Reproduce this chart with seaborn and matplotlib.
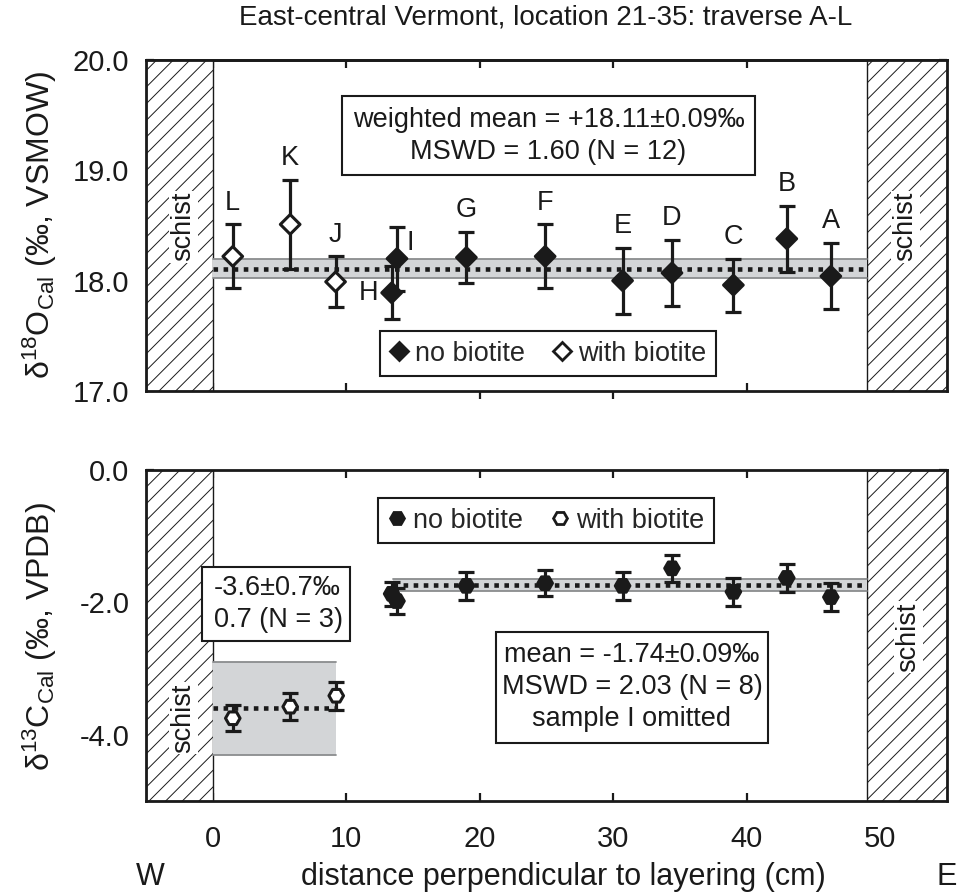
import numpy as np
import pandas as pd
import matplotlib
matplotlib.use("Agg")
import matplotlib.pyplot as plt
import seaborn as sns
from matplotlib.patches import Rectangle
from matplotlib.lines import Line2D
from matplotlib.ticker import FixedLocator

# ---------------- data ----------------
samples = ['L', 'K', 'J', 'I', 'H', 'G', 'F', 'E', 'D', 'C', 'B', 'A']
x_top = [1.5, 5.8, 9.2, 13.8, 13.4, 19.0, 24.9, 30.7, 34.4, 39.0, 43.0, 46.3]
d18O = [18.22, 18.51, 17.99, 18.20, 17.89, 18.21, 18.22, 18.00, 18.07, 17.96, 18.38, 18.04]
d18O_err = [0.29, 0.40, 0.23, 0.29, 0.24, 0.23, 0.29, 0.30, 0.30, 0.24, 0.30, 0.30]
biotite_top = ['with', 'with', 'with', 'no', 'no', 'no', 'no', 'no', 'no', 'no', 'no', 'no']

x_bot = [1.5, 5.8, 9.25, 13.8, 13.4, 19.0, 24.9, 30.7, 34.4, 39.0, 43.0, 46.3]
d13C = [-3.75, -3.575, -3.41, -1.98, -1.87, -1.75, -1.71, -1.75, -1.485, -1.84, -1.63, -1.92]
d13C_err = [0.20, 0.20, 0.21, 0.20, 0.18, 0.21, 0.20, 0.21, 0.20, 0.21, 0.21, 0.21]
biotite_bot = biotite_top

mean_O, mean_O_err = 18.11, 0.09
mean_C, mean_C_err = -1.74, 0.09
mean_Cb, mean_Cb_err = -3.6, 0.7
schist_W = (-5, 0)
schist_E = (49, 55)

title = "East-central Vermont, location 21-35: traverse A-L"
xlabel = "distance perpendicular to layering (cm)"
ylabel_top = "δ$^{18}$O$_{\\mathrm{Cal}}$ (‰, VSMOW)"
ylabel_bot = "δ$^{13}$C$_{\\mathrm{Cal}}$ (‰, VPDB)"
box_top = "weighted mean = +18.11±0.09‰\nMSWD = 1.60 (N = 12)"
box_bot = "mean = -1.74±0.09‰\nMSWD = 2.03 (N = 8)\nsample I omitted"
box_left = "-3.6±0.7‰\n0.7 (N = 3)"
xticks = [0, 10, 20, 30, 40, 50]
yticks_top = [17.0, 17.5, 18.0, 18.5, 19.0, 19.5, 20.0]
yticklabels_top = ['17.0', '', '18.0', '', '19.0', '', '20.0']
yticks_bot = [-5, -4, -3, -2, -1, 0]
yticklabels_bot = ['', '-4.0', '', '-2.0', '', '0.0']

df_top = pd.DataFrame({'sample': samples, 'x': x_top, 'y': d18O, 'err': d18O_err, 'biotite': biotite_top})
df_bot = pd.DataFrame({'sample': samples, 'x': x_bot, 'y': d13C, 'err': d13C_err, 'biotite': biotite_bot})

# ---------------- style ----------------
sns.set_theme(style="ticks")
FONT = ['Liberation Sans', 'DejaVu Sans']
plt.rcParams['font.family'] = FONT
plt.rcParams['mathtext.fontset'] = 'custom'
plt.rcParams['mathtext.rm'] = 'Liberation Sans'
plt.rcParams['mathtext.it'] = 'Liberation Sans:italic'
plt.rcParams['mathtext.bf'] = 'Liberation Sans:bold'
plt.rcParams['hatch.linewidth'] = 0.7
plt.rcParams['axes.linewidth'] = 2.0
FS = 19.5      # in-axes text
TFS = 21       # tick labels
LFS = 22       # axis labels
DARK = '#1a1a1a'
BAND = '#d3d5d7'
BANDEDGE = '#8a8c8e'

fig = plt.figure(figsize=(9.61, 8.94), dpi=100)
ax1 = fig.add_axes([146/961, 1-391/894, 801/961, 331/894])
ax2 = fig.add_axes([146/961, 1-801/894, 801/961, 331/894])

palette = {'no': DARK, 'with': 'white'}


def schist(ax, ylo, yhi):
    for (a, b) in (schist_W, schist_E):
        ax.add_patch(Rectangle((a, ylo), b - a, yhi - ylo, facecolor='white',
                               edgecolor=DARK, hatch='//', lw=1.0, zorder=1))


def band(ax, x0, x1, m, e, fc=BAND, ec=BANDEDGE, ylo=None, yhi=None):
    lo = m - e if ylo is None else ylo
    hi = m + e if yhi is None else yhi
    ax.add_patch(Rectangle((x0, lo), x1 - x0, hi - lo, facecolor=fc, edgecolor='none', zorder=2))
    ax.plot([x0, x1], [lo, lo], color=ec, lw=1.3, zorder=2.1)
    ax.plot([x0, x1], [hi, hi], color=ec, lw=1.3, zorder=2.1)
    ax.plot([x0, x1], [m, m], color=DARK, lw=3.3, linestyle=(0, (1, 1.2)),
            dash_capstyle='butt', zorder=2.5)


def style_axes(ax, ylim, yticks, yticklabels, xlabels=False):
    ax.set_xlim(-5, 55)
    ax.set_ylim(*ylim)
    ax.set_xticks(xticks)
    ax.set_yticks(yticks)
    ax.set_yticklabels(yticklabels)
    for s in ax.spines.values():
        s.set_color(DARK)
        s.set_linewidth(2.0)
        s.set_zorder(10)
    ax.tick_params(axis='both', which='both', direction='in', length=5.5, width=1.6,
                   color=DARK, top=True, right=True, labelsize=TFS, labelcolor=DARK)
    ax.tick_params(axis='y', pad=12)
    ax.tick_params(axis='x', pad=17, labelbottom=xlabels)
    ax.set_xlabel('')
    ax.set_ylabel('')
    ax.grid(False)


# ---------------- top panel ----------------
schist(ax1, 17, 20)
band(ax1, 0, schist_E[0], mean_O, mean_O_err)
ax1.errorbar(df_top['x'], df_top['y'], yerr=df_top['err'], fmt='none', ecolor=DARK,
             elinewidth=2.3, capsize=6, capthick=2.3, zorder=3)
sns.scatterplot(data=df_top, x='x', y='y', hue='biotite', palette=palette, marker='D',
                s=100, edgecolor=DARK, linewidth=2.2, legend=False, ax=ax1, zorder=4)
for s, x, y, e in zip(samples, x_top, d18O, d18O_err):
    if s == 'I':
        ax1.text(x + 0.7, y + 0.14, s, fontsize=FS, color=DARK, ha='left', va='center')
    elif s == 'H':
        ax1.text(x - 1.0, y, s, fontsize=FS, color=DARK, ha='right', va='center')
    else:
        ax1.text(x, y + e + 0.08, s, fontsize=FS, color=DARK, ha='center', va='bottom')

ax1.add_patch(Rectangle((9.7, 18.96), 30.9, 0.71, facecolor='white', edgecolor=DARK, lw=1.5, zorder=5))
ax1.text(25.15, 19.315, box_top, fontsize=FS, color=DARK, ha='center', va='center',
         linespacing=1.3, zorder=6)
for xc in (-2.2, 51.9):
    ax1.text(xc, 18.49, 'schist', rotation=90, fontsize=FS, color=DARK, ha='center', va='center',
             zorder=6, bbox=dict(boxstyle='square,pad=0.05', fc='white', ec='none'))

h_no = Line2D([], [], marker='D', color='none', markerfacecolor=DARK, markeredgecolor=DARK,
              markersize=9, markeredgewidth=2)
h_with = Line2D([], [], marker='D', color='none', markerfacecolor='white', markeredgecolor=DARK,
                markersize=9, markeredgewidth=2)
leg1 = ax1.legend([h_no, h_with], ['no biotite', 'with biotite'], ncol=2, loc='center',
                  bbox_to_anchor=(0.5017, 0.113), fontsize=FS, frameon=True, fancybox=False,
                  edgecolor=DARK, framealpha=1, handlelength=0.7, handletextpad=0.25,
                  columnspacing=1.0, borderpad=0.35, borderaxespad=0)
leg1.get_frame().set_linewidth(1.5)
leg1.set_zorder(7)
style_axes(ax1, (17, 20), yticks_top, yticklabels_top)
ax1.xaxis.set_major_locator(FixedLocator([0, 10, 40, 50]))
ax1.xaxis.set_minor_locator(FixedLocator([20, 30]))
ax1.tick_params(axis='x', which='minor', bottom=True, top=False, direction='out', length=5.5,
                width=1.6, color=DARK)
ax1.tick_params(axis='y', which='minor', left=False, right=False)
sec = ax1.secondary_xaxis('top')
sec.set_xticks(xticks)
sec.tick_params(direction='in', length=5.5, width=1.6, color=DARK, labeltop=False)
sec.spines['top'].set_linewidth(2.0)
ax1.tick_params(axis='x', which='major', top=False)

# ---------------- bottom panel ----------------
schist(ax2, -5, 0)
band(ax2, 0, 9.25, mean_Cb, 0.0, fc=BAND, ec=BANDEDGE,
     ylo=mean_Cb - mean_Cb_err, yhi=mean_Cb + mean_Cb_err)
band(ax2, 13.5, schist_E[0], mean_C, mean_C_err)
ax2.errorbar(df_bot['x'], df_bot['y'], yerr=df_bot['err'], fmt='none', ecolor=DARK,
             elinewidth=2.3, capsize=5.5, capthick=2.3, zorder=3)
sns.scatterplot(data=df_bot, x='x', y='y', hue='biotite', palette=palette, marker='H',
                s=110, edgecolor=DARK, linewidth=2.2, legend=False, ax=ax2, zorder=4)

ax2.add_patch(Rectangle((-0.84, -2.59), 11.14, 1.12, facecolor='white', edgecolor=DARK, lw=1.5, zorder=5))
ax2.text(0.1, -2.03, box_left, fontsize=FS, color=DARK, ha='left', va='center',
         linespacing=1.3, zorder=6)
ax2.add_patch(Rectangle((21.2, -4.12), 20.4, 1.67, facecolor='white', edgecolor=DARK, lw=1.5, zorder=5))
ax2.text(31.4, -3.285, box_bot, fontsize=FS, color=DARK, ha='center', va='center',
         linespacing=1.3, zorder=6)
ax2.text(-2.2, -3.75, 'schist', rotation=90, fontsize=FS, color=DARK, ha='center', va='center',
         zorder=6, bbox=dict(boxstyle='square,pad=0.05', fc='white', ec='none'))
ax2.text(52.1, -2.52, 'schist', rotation=90, fontsize=FS, color=DARK, ha='center', va='center',
         zorder=6, bbox=dict(boxstyle='square,pad=0.05', fc='white', ec='none'))

g_no = Line2D([], [], marker='H', color='none', markerfacecolor=DARK, markeredgecolor=DARK,
              markersize=10, markeredgewidth=2)
g_with = Line2D([], [], marker='H', color='none', markerfacecolor='white', markeredgecolor=DARK,
                markersize=10, markeredgewidth=2)
leg2 = ax2.legend([g_no, g_with], ['no biotite', 'with biotite'], ncol=2, loc='center',
                  bbox_to_anchor=(0.4992, 0.847), fontsize=FS, frameon=True, fancybox=False,
                  edgecolor=DARK, framealpha=1, handlelength=0.7, handletextpad=0.25,
                  columnspacing=1.0, borderpad=0.35, borderaxespad=0)
leg2.get_frame().set_linewidth(1.5)
leg2.set_zorder(7)
style_axes(ax2, (-5, 0), yticks_bot, yticklabels_bot, xlabels=True)

# ---------------- figure texts ----------------
fig.text(546/961, 1-18/894, title, fontsize=20, color=DARK, ha='center', va='center')
fig.text(563/961, 1-877/894, xlabel, fontsize=LFS, color=DARK, ha='center', va='center')
fig.text(150/961, 1-877/894, 'W', fontsize=LFS, color=DARK, ha='center', va='center')
fig.text(957/961, 1-877/894, 'E', fontsize=LFS, color=DARK, ha='right', va='center')
fig.text(40/961, 1-225/894, ylabel_top, fontsize=LFS + 1, color=DARK, rotation=90,
         ha='center', va='center')
fig.text(40/961, 1-637/894, ylabel_bot, fontsize=LFS + 1, color=DARK, rotation=90,
         ha='center', va='center')

fig.savefig('out.png', dpi=100, facecolor='white')
